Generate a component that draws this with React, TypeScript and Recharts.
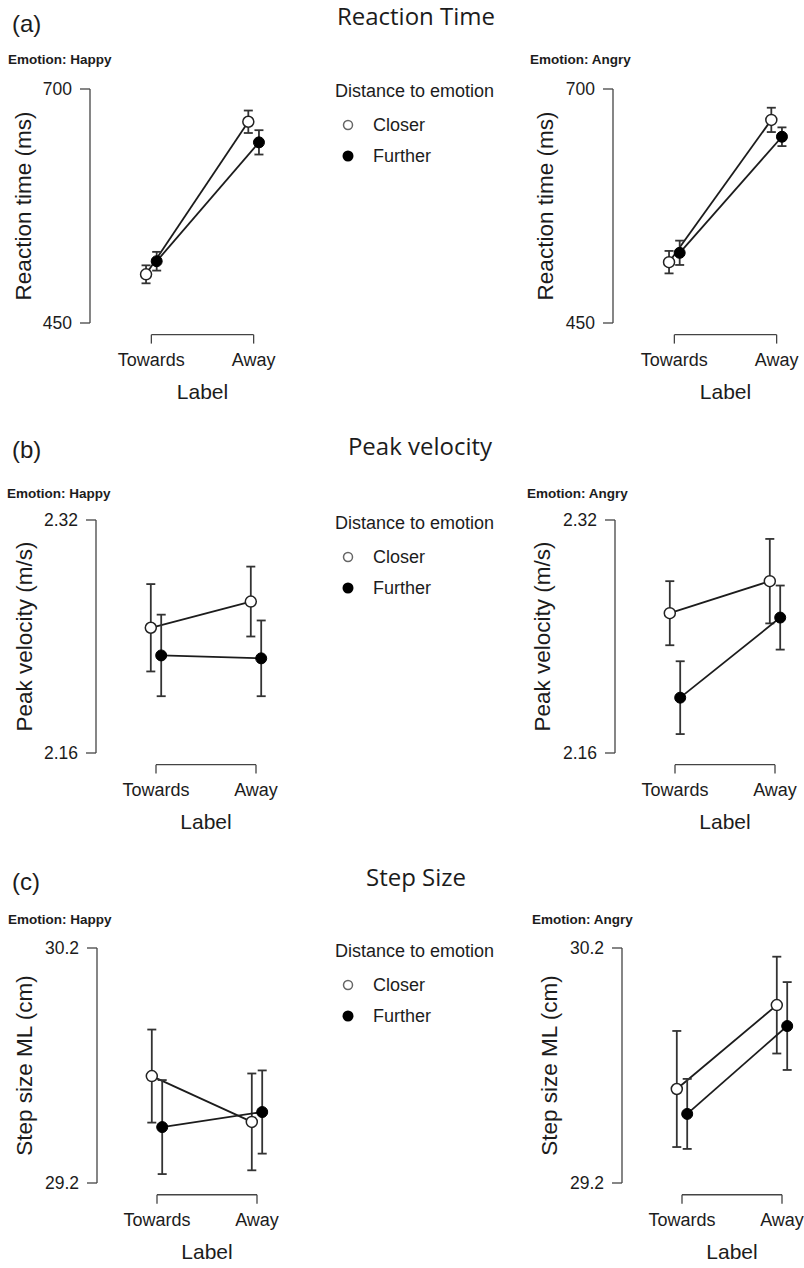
import React from 'react'
import { ComposedChart, Line, XAxis, YAxis, ErrorBar, ReferenceLine } from 'recharts'

// categories on the x axis
const labels = ['Towards', 'Away']

// (a) reaction time (ms)
const rtTicks = [450, 700]
const rtHappyCloser = [502, 665]
const rtHappyCloserErr = [9.6, 12]
const rtHappyFurther = [516, 643]
const rtHappyFurtherErr = [10, 13]
const rtAngryCloser = [515, 667]
const rtAngryCloserErr = [12, 13]
const rtAngryFurther = [525, 649]
const rtAngryFurtherErr = [13, 10]

// (b) peak velocity (m/s)
const pvTicks = [2.16, 2.32]
const pvHappyCloser = [2.246, 2.264]
const pvHappyCloserErr = [0.03, 0.024]
const pvHappyFurther = [2.227, 2.225]
const pvHappyFurtherErr = [0.028, 0.026]
const pvAngryCloser = [2.256, 2.278]
const pvAngryCloserErr = [0.022, 0.029]
const pvAngryFurther = [2.198, 2.253]
const pvAngryFurtherErr = [0.025, 0.022]

// (c) step size ML (cm)
const ssTicks = [29.2, 30.2]
const ssHappyCloser = [29.655, 29.46]
const ssHappyCloserErr = [0.198, 0.206]
const ssHappyFurther = [29.438, 29.502]
const ssHappyFurtherErr = [0.2, 0.177]
const ssAngryCloser = [29.6, 29.957]
const ssAngryCloserErr = [0.247, 0.206]
const ssAngryFurther = [29.494, 29.868]
const ssAngryFurtherErr = [0.149, 0.187]

const FONT = '"Liberation Sans", Arial, Helvetica, sans-serif'
const TITLE_FONT = '"Open Sans", "Noto Sans", sans-serif'
const INK = '#1c1c1c'
const AXIS = '#444'

const YW = 100
const MT = 10
const XH = 90
const DODGE = 0.052

const toRows = (vals: number[], errs: number[], shift: number) =>
  labels.map((name, i) => ({ name, x: i + 1 + shift, y: vals[i], err: errs[i] }))

function YTitle(props: any) {
  const vb = props.viewBox || { x: 0, y: 0, width: 0, height: 0 }
  const x = vb.x + vb.width - props.gap
  const y = vb.y + vb.height / 2
  return (
    <text x={x} y={y} transform={`rotate(-90 ${x} ${y})`} textAnchor="middle" fontSize={22.5} fill={INK} fontFamily={FONT}>
      {props.text}
    </text>
  )
}

function XTitle(props: any) {
  const vb = props.viewBox || { x: 0, y: 0, width: 0, height: 0 }
  return (
    <text x={vb.x + vb.width / 2} y={vb.y + 76} textAnchor="middle" fontSize={21} fill={INK} fontFamily={FONT}>
      Label
    </text>
  )
}

interface PanelProps {
  left: number
  top: number
  plotW: number
  plotH: number
  ticks: number[]
  yTitle: string
  titleGap: number
  closer: number[]
  closerErr: number[]
  further: number[]
  furtherErr: number[]
}

function Panel({ left, top, plotW, plotH, ticks, yTitle, titleGap, closer, closerErr, further, furtherErr }: PanelProps) {
  const closerRows = toRows(closer, closerErr, -DODGE)
  const furtherRows = toRows(further, furtherErr, DODGE)
  const [lo, hi] = ticks
  const span = hi - lo
  // R-style bracket axis just below the plot region
  const bY = lo - 0.05 * span
  const tY = lo - 0.088 * span
  const bracket = { stroke: AXIS, strokeWidth: 1.3, ifOverflow: 'visible' as const }
  return (
    <div style={{ position: 'absolute', left: left - YW, top: top - MT }}>
      <ComposedChart width={YW + plotW} height={MT + plotH + XH} margin={{ top: MT, right: 0, bottom: 0, left: 0 }}>
        <XAxis
          dataKey="x"
          type="number"
          domain={[0.4, 2.6]}
          ticks={[1, 2]}
          interval={0}
          tickFormatter={(v: number) => labels[Math.round(v) - 1]}
          axisLine={false}
          tickLine={false}
          tickSize={0}
          tickMargin={30}
          height={XH}
          tick={{ fill: INK, fontSize: 18, fontFamily: FONT }}
          label={<XTitle />}
        />
        <YAxis
          type="number"
          domain={ticks}
          ticks={ticks}
          interval={0}
          width={YW}
          tickSize={10}
          tickMargin={8}
          axisLine={{ stroke: AXIS, strokeWidth: 1.3 }}
          tickLine={{ stroke: AXIS, strokeWidth: 1.3 }}
          tick={{ fill: INK, fontSize: 17.5, fontFamily: FONT }}
          label={<YTitle text={yTitle} gap={titleGap} />}
        />
        <ReferenceLine segment={[{ x: 1, y: bY }, { x: 2, y: bY }]} {...bracket} />
        <ReferenceLine segment={[{ x: 1, y: bY }, { x: 1, y: tY }]} {...bracket} />
        <ReferenceLine segment={[{ x: 2, y: bY }, { x: 2, y: tY }]} {...bracket} />
        <Line
          data={closerRows}
          dataKey="y"
          name="Closer"
          stroke={INK}
          strokeWidth={1.8}
          dot={{ r: 5.5, fill: '#fff', stroke: '#222', strokeWidth: 1.5 }}
          activeDot={false}
          isAnimationActive={false}
        >
          <ErrorBar dataKey="err" direction="y" width={4.5} stroke="#333" strokeWidth={1.8} isAnimationActive={false} />
        </Line>
        <Line
          data={furtherRows}
          dataKey="y"
          name="Further"
          stroke={INK}
          strokeWidth={1.8}
          dot={{ r: 5.5, fill: '#000', stroke: '#000', strokeWidth: 1 }}
          activeDot={false}
          isAnimationActive={false}
        >
          <ErrorBar dataKey="err" direction="y" width={4.5} stroke="#333" strokeWidth={1.8} isAnimationActive={false} />
        </Line>
      </ComposedChart>
    </div>
  )
}

function Txt({ x, y, size, children, bold, center, family, k = 0.49 }: any) {
  return (
    <div
      style={{
        position: 'absolute',
        left: x,
        top: y - k * size,
        fontSize: size,
        lineHeight: `${size}px`,
        fontWeight: bold ? 700 : 400,
        fontFamily: family || FONT,
        whiteSpace: 'nowrap',
        transform: center ? 'translateX(-50%)' : undefined,
        color: INK,
      }}
    >
      {children}
    </div>
  )
}

function Key({ y }: { y: number }) {
  return (
    <>
      <Txt x={335} y={y} size={18}>Distance to emotion</Txt>
      <svg width={16} height={16} style={{ position: 'absolute', left: 340, top: y + 33.5 - 8 }}>
        <circle cx={8} cy={8} r={4.5} fill="#fff" stroke="#666" strokeWidth={1.5} />
      </svg>
      <Txt x={373} y={y + 33.5} size={18}>Closer</Txt>
      <svg width={16} height={16} style={{ position: 'absolute', left: 340, top: y + 64.5 - 8 }}>
        <circle cx={8} cy={8} r={5.5} fill="#000" />
      </svg>
      <Txt x={373} y={y + 64.5} size={18}>Further</Txt>
    </>
  )
}

export default function App() {
  return (
    <div style={{ position: 'absolute', left: 0, top: 0, width: 804, height: 1268, overflow: 'hidden', background: '#fff', fontFamily: FONT }}>
      {/* (a) */}
      <Txt x={12} y={23.5} size={24}>(a)</Txt>
      <Txt x={416} y={16.5} size={24} center family={TITLE_FONT} k={0.53}>Reaction Time</Txt>
      <Txt x={8} y={60} size={13.5} bold>Emotion: Happy</Txt>
      <Txt x={530} y={60} size={13.5} bold>Emotion: Angry</Txt>
      <Key y={91} />
      <Panel left={90} top={89} plotW={225} plotH={234} ticks={rtTicks} yTitle="Reaction time (ms)" titleGap={59}
        closer={rtHappyCloser} closerErr={rtHappyCloserErr} further={rtHappyFurther} furtherErr={rtHappyFurtherErr} />
      <Panel left={613} top={89} plotW={225} plotH={234} ticks={rtTicks} yTitle="Reaction time (ms)" titleGap={60}
        closer={rtAngryCloser} closerErr={rtAngryCloserErr} further={rtAngryFurther} furtherErr={rtAngryFurtherErr} />

      {/* (b) */}
      <Txt x={12} y={449.5} size={24}>(b)</Txt>
      <Txt x={420} y={446.5} size={24} center family={TITLE_FONT} k={0.53}>Peak velocity</Txt>
      <Txt x={7} y={494} size={13.5} bold>Emotion: Happy</Txt>
      <Txt x={527} y={494} size={13.5} bold>Emotion: Angry</Txt>
      <Key y={523} />
      <Panel left={96} top={520} plotW={220} plotH={233} ticks={pvTicks} yTitle="Peak velocity (m/s)" titleGap={64}
        closer={pvHappyCloser} closerErr={pvHappyCloserErr} further={pvHappyFurther} furtherErr={pvHappyFurtherErr} />
      <Panel left={615} top={520} plotW={220} plotH={233} ticks={pvTicks} yTitle="Peak velocity (m/s)" titleGap={65}
        closer={pvAngryCloser} closerErr={pvAngryCloserErr} further={pvAngryFurther} furtherErr={pvAngryFurtherErr} />

      {/* (c) */}
      <Txt x={12} y={881.5} size={24}>(c)</Txt>
      <Txt x={416} y={878} size={24} center family={TITLE_FONT} k={0.53}>Step Size</Txt>
      <Txt x={8} y={920} size={13.5} bold>Emotion: Happy</Txt>
      <Txt x={532} y={920} size={13.5} bold>Emotion: Angry</Txt>
      <Key y={951} />
      <Panel left={97} top={948} plotW={220} plotH={235} ticks={ssTicks} yTitle="Step size ML (cm)" titleGap={65}
        closer={ssHappyCloser} closerErr={ssHappyCloserErr} further={ssHappyFurther} furtherErr={ssHappyFurtherErr} />
      <Panel left={622} top={948} plotW={220} plotH={235} ticks={ssTicks} yTitle="Step size ML (cm)" titleGap={65}
        closer={ssAngryCloser} closerErr={ssAngryCloserErr} further={ssAngryFurther} furtherErr={ssAngryFurtherErr} />
    </div>
  )
}
